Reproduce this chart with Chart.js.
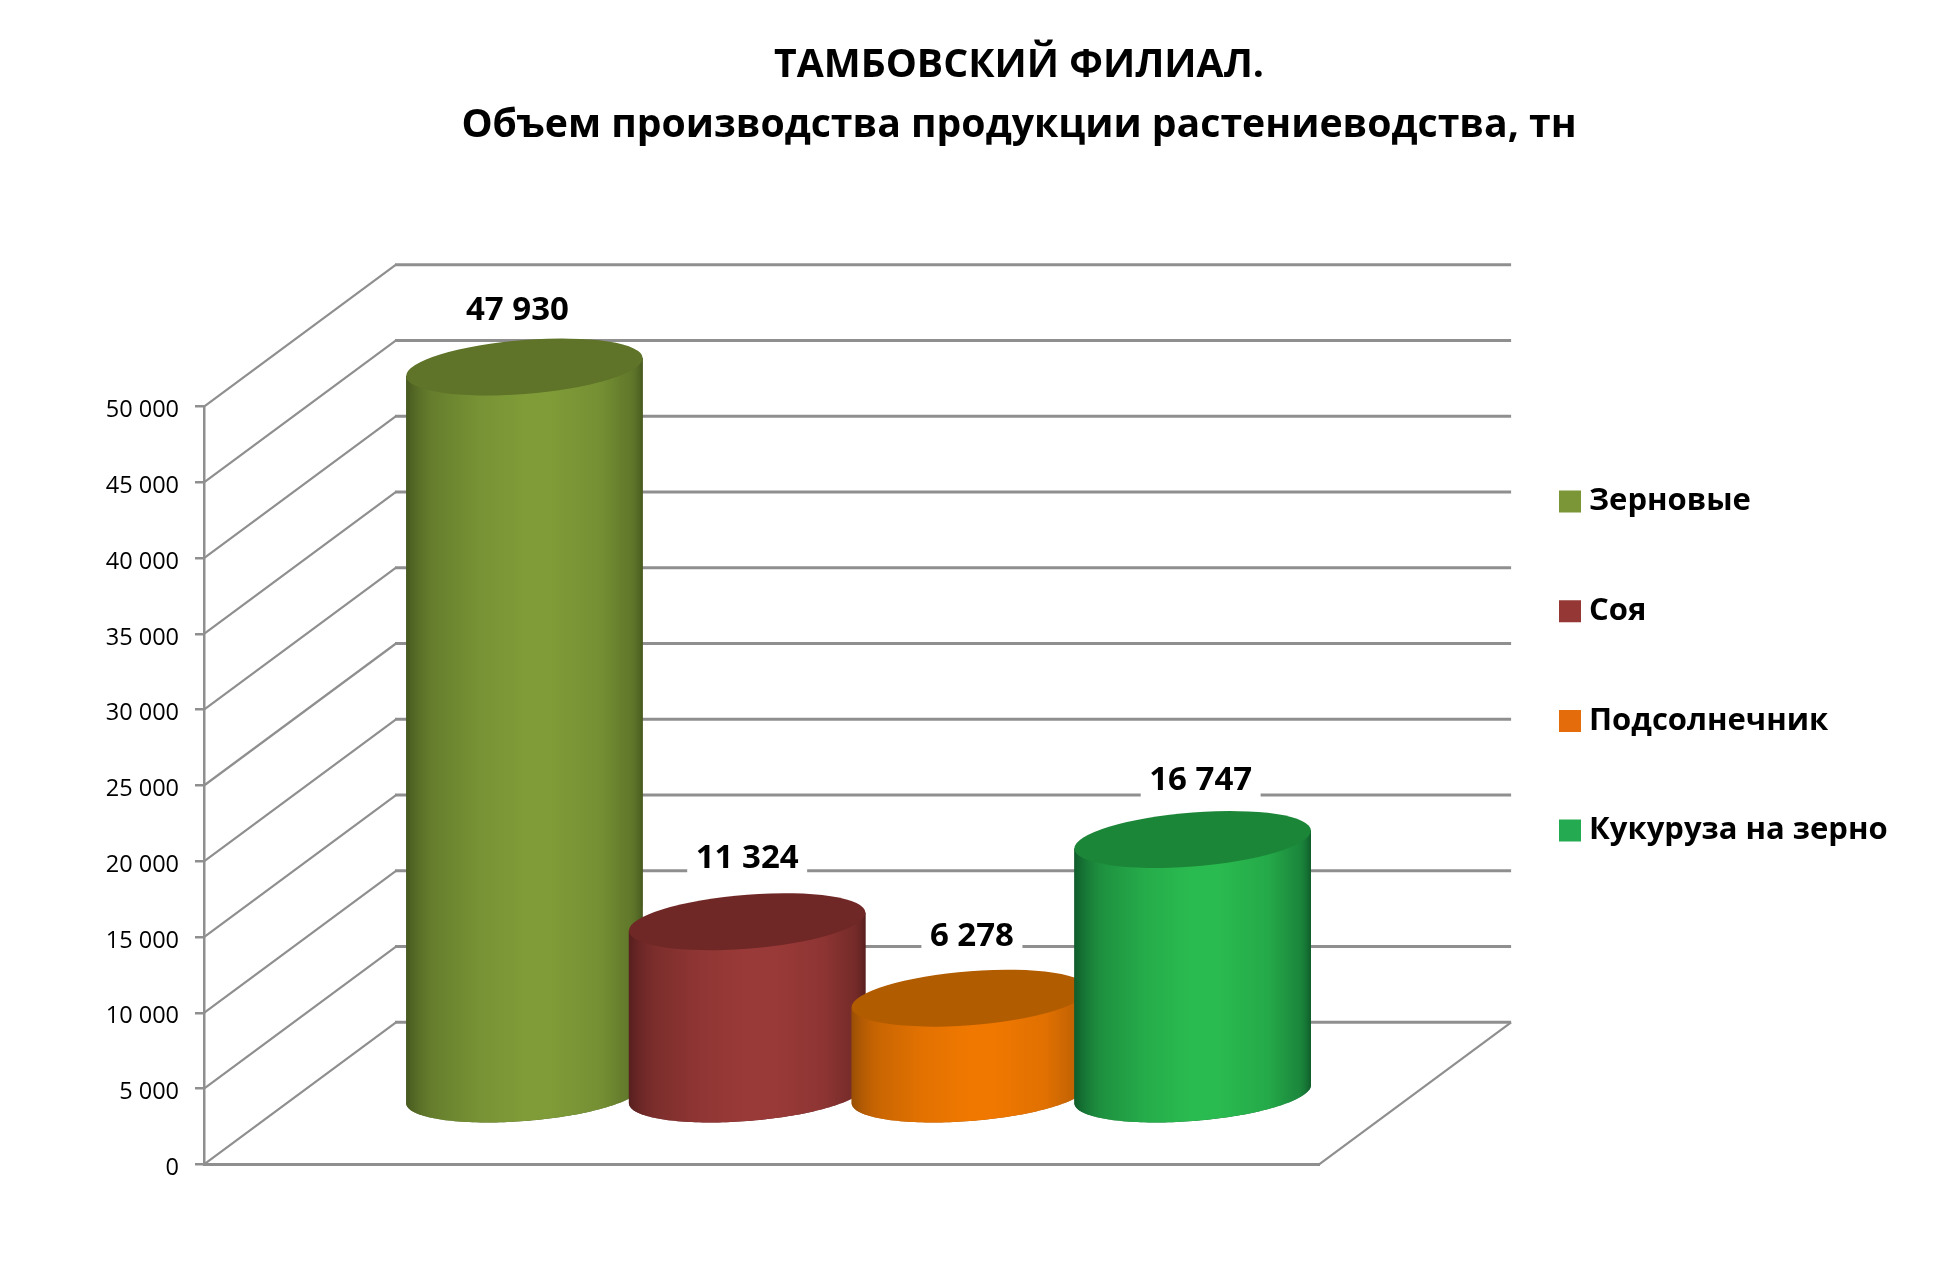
<!DOCTYPE html>
<html lang="ru">
<head>
<meta charset="utf-8">
<title>Тамбовский филиал</title>
<script src="https://cdn.jsdelivr.net/npm/chart.js@4/dist/chart.umd.min.js"></script>
<style>
  html, body { margin: 0; padding: 0; background: #fff; }
  canvas { display: block; }
</style>
</head>
<body>
<canvas id="chart" width="1940" height="1266"></canvas>
<script>
// Данные
const titleLines = ['ТАМБОВСКИЙ ФИЛИАЛ.', 'Объем производства продукции растениеводства, тн'];
const categories = ['Зерновые', 'Соя', 'Подсолнечник', 'Кукуруза на зерно'];
const values     = [47930, 11324, 6278, 16747];
const yMax  = 50000;
const yStep = 5000;

// Цвета: легенда, край, середина и верх цилиндра
const legendColors = ['#7a9636', '#953735', '#e46c0a', '#24ab52'];
const edgeColors   = ['#47591f', '#571f1e', '#9a4f05', '#0f5c2b'];
const midColors    = ['#7f9c38', '#9a3a38', '#f07800', '#2abb50'];
const topColors    = ['#5f7329', '#702826', '#b25c00', '#1c8638'];

const FONT = '"Open Sans", sans-serif';
const GRID = '#8f8f8f';

// Глубина псевдо-3D
const depthX = 192;
const depthY = -142;
const tilt = 0.076;      // наклон эллипса
const capHalf = 27;      // малая полуось эллипса

// Подписи стоят не строго по центру цилиндра
const labelNudgeX = [-7, 0, 2, 8];
const labelNudgeY = [5.5, -1.5, 0.5, 3.5];

function formatNum(v) {
  return String(v).replace(/\B(?=(\d{3})+$)/g, ' ');
}

const fakeDepth = {
  id: 'fakeDepth',
  afterLayout(chart) {
    // заголовок и легенду ставим вручную
    chart.titleBlock.left = 98;
    chart.titleBlock.right = 1940;
    const lg = chart.legend;
    const pad = lg.options.labels.padding;
    lg.left = 1566.5 - pad;
    lg.right = 1940;
    lg.top = 486 - pad;
    lg.bottom = 1000;
  },
  beforeDatasetsDraw(chart) {
    // стенки и пол
    const { ctx } = chart;
    const y = chart.scales.y;
    const { left, right, bottom } = chart.chartArea;
    ctx.save();
    ctx.strokeStyle = GRID;
    for (let v = 0; v <= yMax; v += yStep) {
      const py = y.getPixelForValue(v);
      ctx.lineWidth = 2.2;
      ctx.beginPath();
      ctx.moveTo(left, py);
      ctx.lineTo(left + depthX, py + depthY);
      ctx.stroke();
      ctx.lineWidth = 3;
      ctx.beginPath();
      ctx.moveTo(left + depthX - 1, py + depthY);
      ctx.lineTo(right + depthX, py + depthY);
      ctx.stroke();
    }
    ctx.lineWidth = 2.2;
    ctx.beginPath();
    ctx.moveTo(right, bottom);
    ctx.lineTo(right + depthX, bottom + depthY);
    ctx.stroke();
    ctx.restore();
  },
  beforeDatasetDraw() {
    // обычные прямоугольники не рисуем, их заменяют цилиндры
    return false;
  },
  afterDatasetsDraw(chart) {
    const { ctx } = chart;
    categories.forEach((name, i) => {
      const bar = chart.getDatasetMeta(i).data[0];
      const cx = bar.x + depthX / 2 + 1;
      const topY = bar.y + depthY / 2;
      const baseY = bar.base + depthY / 2 + 2;
      const a = bar.width / 2;
      const rise = a * tilt;

      const grad = ctx.createLinearGradient(cx - a, 0, cx + a, 0);
      grad.addColorStop(0, edgeColors[i]);
      grad.addColorStop(0.14, midColors[i] + '98');
      grad.addColorStop(0.3, midColors[i] + 'd8');
      grad.addColorStop(0.5, midColors[i]);
      grad.addColorStop(0.6, midColors[i]);
      grad.addColorStop(0.82, midColors[i] + 'd0');
      grad.addColorStop(0.93, midColors[i] + '80');
      grad.addColorStop(1, edgeColors[i]);

      // боковая поверхность
      ctx.beginPath();
      ctx.moveTo(cx - a, topY + rise);
      for (let t = Math.PI; t >= 0; t -= Math.PI / 90) {
        const px = a * Math.cos(t);
        ctx.lineTo(cx + px, baseY + capHalf * Math.sin(t) - px * tilt);
      }
      ctx.lineTo(cx + a, topY - rise);
      ctx.closePath();
      ctx.fillStyle = edgeColors[i];
      ctx.fill();
      ctx.fillStyle = grad;
      ctx.fill();

      // верхняя крышка
      ctx.save();
      ctx.translate(cx, topY);
      ctx.transform(1, -tilt, 0, 1, 0, 0);
      ctx.beginPath();
      ctx.ellipse(0, 0, a, capHalf, 0, 0, Math.PI * 2);
      ctx.fillStyle = topColors[i];
      ctx.fill();
      ctx.restore();

      // подпись значения на белой плашке
      const text = formatNum(values[i]);
      const lx = cx + labelNudgeX[i];
      const ly = topY - capHalf - 35 + labelNudgeY[i];
      ctx.font = 'bold 33px ' + FONT;
      const w = ctx.measureText(text).width;
      ctx.fillStyle = '#fff';
      ctx.fillRect(lx - w / 2 - 8.5, ly - 20, w + 17, 40);
      ctx.fillStyle = '#000';
      ctx.textAlign = 'center';
      ctx.textBaseline = 'middle';
      ctx.fillText(text, lx, ly);
    });
  }
};

new Chart(document.getElementById('chart'), {
  type: 'bar',
  data: {
    labels: [''],
    datasets: categories.map((name, i) => ({
      label: name,
      data: [values[i]],
      backgroundColor: legendColors[i],
      borderColor: legendColors[i],
      borderWidth: 15,
      categoryPercentage: 0.799,
      barPercentage: 1.062
    }))
  },
  options: {
    responsive: false,
    animation: false,
    devicePixelRatio: 1,
    layout: { padding: { top: 35.5, right: 211, bottom: 101.7, left: 0 } },
    scales: {
      x: {
        grid: { drawOnChartArea: false, drawTicks: false },
        border: { display: true, color: GRID, width: 3 },
        ticks: { display: false },
        afterFit: s => { s.height = 0; }
      },
      y: {
        min: 0,
        max: yMax,
        grid: { drawOnChartArea: false, drawTicks: true, tickLength: 9, color: GRID, lineWidth: 2.5 },
        border: { display: true, color: GRID, width: 2.5 },
        ticks: {
          stepSize: yStep,
          padding: 16,
          labelOffset: 4,
          color: '#000',
          font: { family: FONT, size: 23.5 },
          callback: v => formatNum(v)
        },
        afterFit: s => { s.width = 204; }
      }
    },
    plugins: {
      title: {
        display: true,
        text: titleLines,
        color: '#000',
        font: { family: FONT, size: 39.2, weight: 'bold', lineHeight: 60 / 39.2 },
        padding: { top: 0, bottom: 251.2 }
      },
      legend: {
        position: 'right',
        align: 'start',
        labels: {
          color: '#000',
          boxWidth: 7,
          boxHeight: 7,
          padding: 78.7,
          font: { family: FONT, size: 31, weight: 'bold', lineHeight: 44 / 31 }
        }
      },
      tooltip: { enabled: false }
    }
  },
  plugins: [fakeDepth]
});
</script>
</body>
</html>
